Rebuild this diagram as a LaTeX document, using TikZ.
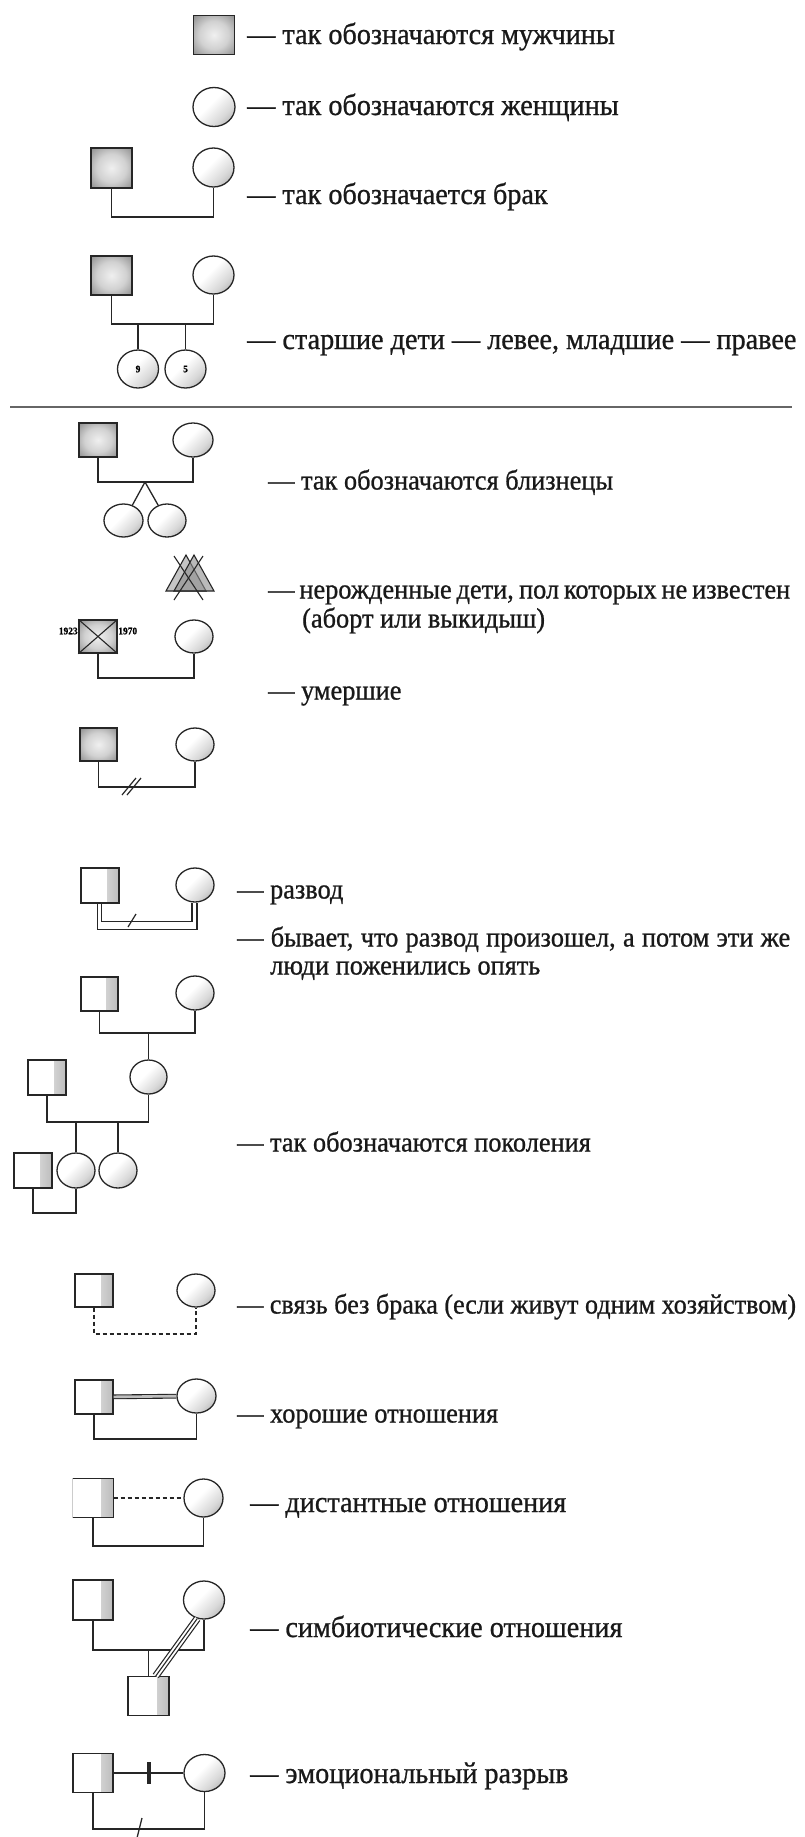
\documentclass[tikz,border=0pt]{standalone}
\usepackage{fontspec}
\setmainfont{Liberation Serif}[FakeStretch=0.94,FakeBold=0.8]
\usetikzlibrary{shapes.geometric,calc}
\newcommand\labfont{\fontsize{30}{30}\selectfont}
\newcommand\labfontb{\fontsize{28}{28}\selectfont}
\newcommand\labfontc{\fontsize{27.8}{27.8}\selectfont}
\newcommand\tinyfont{\fontsize{10}{10}\selectfont\bfseries}
\pgfdeclarehorizontalshading{femlin}{100bp}{color(0bp)=(white); color(44bp)=(white); color(66bp)=(black!15); color(82bp)=(black!32); color(100bp)=(black!42)}
\pgfdeclareradialshading{maleshade}{\pgfpoint{0bp}{0bp}}{color(0bp)=(black!6); color(18bp)=(black!18); color(38bp)=(black!48); color(50bp)=(black!62); color(72bp)=(black!68)}
\begin{document}
\begin{tikzpicture}[x=1pt,y=-1pt,
  ln/.style={line width=1.3pt, draw=black!85},
  pers/.style={draw=black!85, line width=1.3pt, inner sep=0pt},
  mdark/.style={pers, rectangle, shading=maleshade},
  mlight/.style={pers, rectangle, fill=white, path picture={\shade[left color=white, right color=black!26] ($(path picture bounding box.north east)+(-12,0)$) rectangle (path picture bounding box.south east);}},
  fem/.style={pers, ellipse, fill=white, path picture={\shade[shading=femlin, shading angle=-45] (path picture bounding box.south west) rectangle (path picture bounding box.north east);}},
  lab/.style={anchor=base west, inner sep=0pt, font=\labfont, text=black!90},
  labb/.style={lab, font=\labfontb},
  yrs/.style={inner sep=0.5pt, font=\tinyfont},
  triple/.style={line width=7.4pt, draw=black!85, postaction={draw=white, line width=5pt}, postaction={draw=black!85, line width=1.1pt}}
]
\useasboundingbox (0,0) rectangle (805,1837);
\fill[white] (0,0) rectangle (805,1837);

% Row 1
\node[mdark, minimum width=41pt, minimum height=39pt] (m1) at (214,35) {};
\node[lab] (t1) at (247,44) {— так обозначаются мужчины};
% Row 2
\node[fem, minimum width=42pt, minimum height=39pt] (f2) at (214,107) {};
\node[lab] (t2) at (247,115) {— так обозначаются женщины};
% Row 3
\node[mdark, minimum width=41pt, minimum height=40pt] (m3) at (111.5,168) {};
\node[fem, minimum width=41pt, minimum height=39pt] (f3) at (213.5,167.5) {};
\coordinate (b3) at (160,217);
\draw[ln] (m3.south) -- (m3.south |- b3) -- (f3.south |- b3) -- (f3.south);
\node[lab] (t3) at (247,204) {— так обозначается брак};
% Row 4
\node[mdark, minimum width=41pt, minimum height=39pt] (m4) at (111.5,275.5) {};
\node[fem, minimum width=41pt, minimum height=38pt] (f4) at (213.5,275) {};
\coordinate (b4) at (160,324);
\draw[ln] (m4.south) -- (m4.south |- b4) -- (f4.south |- b4) -- (f4.south);
\node[fem, minimum width=41pt, minimum height=38pt] (c41) at (138,369) {\tinyfont 9};
\node[fem, minimum width=41pt, minimum height=38pt] (c42) at (185.5,369) {\tinyfont 5};
\draw[ln] (c41.north) -- (c41.north |- b4);
\draw[ln] (c42.north) -- (c42.north |- b4);
\node[lab] (t4) at (247,349) {— старшие дети — левее, младшие — правее};

% separator
\coordinate (sepL) at (10,407);
\coordinate (sepR) at (792,407);
\draw[line width=2.2pt, black!60] (sepL) -- (sepR);

% Twins
\node[mdark, minimum width=38pt, minimum height=34pt] (m5) at (98,440) {};
\node[fem, minimum width=40pt, minimum height=34pt] (f5) at (193,440) {};
\coordinate (b5) at (145,482);
\draw[ln] (m5.south) -- (m5.south |- b5) -- (f5.south |- b5) -- (f5.south);
\node[fem, minimum width=39pt, minimum height=33pt] (t51) at (123.5,520.5) {};
\node[fem, minimum width=38pt, minimum height=33pt] (t52) at (167,520.5) {};
\draw[ln] (b5) -- (t51.60);
\draw[ln] (b5) -- (t52.120);
\node[labb] (t5) at (268,489.5) {— так обозначаются близнецы};

% Unborn
\filldraw[line width=1.1pt, draw=black!85, fill=black!45, fill opacity=0.5] (166,591) -- (186,555) -- (206,591) -- cycle;
\filldraw[line width=1.1pt, draw=black!85, fill=black!45, fill opacity=0.6] (174,591) -- (194,555) -- (214,591) -- cycle;
\draw[line width=1.1pt, black!85] (174,556) -- (203,600);
\draw[line width=1.1pt, black!85] (203,556) -- (174,600);
\node[labb] (t6) at (268,598.5) {\makebox[522pt][s]{— нерожденные дети, пол которых не известен}};
\node[labb] (t6b) at (302,627.5) {(аборт или выкидыш)};

% Deceased
\node[mdark, minimum width=38pt, minimum height=33pt] (m6) at (98,636.5) {};
\draw[line width=1.1pt, black!85] (m6.north west) -- (m6.south east) (m6.north east) -- (m6.south west);
\coordinate (yr) at (0,631);
\node[yrs, anchor=east] (y1) at (m6.west |- yr) {1923};
\node[yrs, anchor=west] (y2) at (m6.east |- yr) {1970};
\node[fem, minimum width=38pt, minimum height=33pt] (f6) at (194,636.5) {};
\coordinate (b6) at (146,678);
\draw[ln] (m6.south) -- (m6.south |- b6) -- (f6.south |- b6) -- (f6.south);
\node[labb] (t7) at (268,699.5) {— умершие};

% Double slash
\node[mdark, minimum width=37pt, minimum height=33pt] (m7) at (98.5,744.5) {};
\node[fem, minimum width=38pt, minimum height=33pt] (f7) at (195,744.5) {};
\coordinate (b7) at (146,787);
\draw[ln] (m7.south) -- (m7.south |- b7) -- (f7.south |- b7) -- (f7.south);
\draw[line width=1.2pt, black!85] (122,795) -- (136,778);
\draw[line width=1.2pt, black!85] (127,795) -- (141,778);

% Divorce
\node[mlight, minimum width=38pt, minimum height=35pt] (m8) at (100,885.5) {};
\node[fem, minimum width=38pt, minimum height=34pt] (f8) at (195,885) {};
\draw[ln] ($(m8.south)+(1.5,0)$) -- ++(0,18) -| ($(f8.south)+(-3,0)$);
\draw[ln] ($(m8.south)+(-2.5,0)$) -- ++(0,26) -| ($(f8.south)+(2,0)$);
\draw[line width=1.2pt, black!85] (128,927) -- (136,914);
\node[labb] (t8) at (237,898.5) {— развод};
\node[labb] (t9) at (237,946.5) {\makebox[553pt][s]{— бывает, что развод произошел, а потом эти же}};
\node[labb] (t9b) at (270,974.5) {люди поженились опять};

% Generations
\node[mlight, minimum width=37pt, minimum height=34pt] (g1m) at (99.5,994) {};
\node[fem, minimum width=38pt, minimum height=34pt] (g1f) at (195,993) {};
\coordinate (gb1) at (148,1033);
\draw[ln] (g1m.south) -- (g1m.south |- gb1) -- (g1f.south |- gb1) -- (g1f.south);
\node[fem, minimum width=37pt, minimum height=34pt] (g2f) at (148.5,1077) {};
\draw[ln] (g2f.north) -- (g2f.north |- gb1);
\node[mlight, minimum width=38pt, minimum height=35pt] (g2m) at (47,1077.5) {};
\coordinate (gb2) at (100,1122);
\draw[ln] (g2m.south) -- (g2m.south |- gb2) -- (g2f.south |- gb2) -- (g2f.south);
\node[fem, minimum width=38pt, minimum height=35pt] (g3a) at (76,1170.5) {};
\node[fem, minimum width=38pt, minimum height=35pt] (g3b) at (118,1170.5) {};
\draw[ln] (g3a.north) -- (g3a.north |- gb2);
\draw[ln] (g3b.north) -- (g3b.north |- gb2);
\node[mlight, minimum width=38pt, minimum height=35pt] (g3m) at (33,1170.5) {};
\coordinate (gb3) at (55,1213);
\draw[ln] (g3m.south) -- (g3m.south |- gb3) -- (g3a.south |- gb3) -- (g3a.south);
\node[labb] (t10) at (237,1151.5) {— так обозначаются поколения};

% Cohabitation
\node[mlight, minimum width=38pt, minimum height=33pt] (cm) at (94,1290.5) {};
\node[fem, minimum width=38pt, minimum height=33pt] (cf) at (196,1290.5) {};
\coordinate (cb) at (145,1334);
\draw[ln, dash pattern=on 4pt off 3pt] (cm.south) -- (cm.south |- cb) -- (cf.south |- cb) -- (cf.south);
\node[lab, font=\labfontc] (t11) at (237,1313.5) {— связь без брака (если живут одним хозяйством)};

% Good relations
\node[mlight, minimum width=38pt, minimum height=34pt] (gm) at (94,1397) {};
\node[fem, minimum width=39pt, minimum height=34pt] (gf) at (196.5,1396) {};
\draw[line width=1.1pt, black!85, double=black!25, double distance=2.6pt] (gm) -- (gf);
\coordinate (gb) at (145,1439);
\draw[ln] (gm.south) -- (gm.south |- gb) -- (gf.south |- gb) -- (gf.south);
\node[labb] (t12) at (237,1422.5) {— хорошие отношения};

% Distant relations
\node[mlight, draw=none, minimum width=40pt, minimum height=38pt] (dm) at (93,1498) {};
\draw[ln] (dm.north west) -- (dm.north east) -- (dm.south east) -- (dm.south west);
\draw[line width=1pt, black!20] (dm.north west) -- (dm.south west);
\node[fem, minimum width=39pt, minimum height=38pt] (df) at (203.5,1498) {};
\draw[ln, dash pattern=on 4pt off 3pt] (dm) -- (df);
\coordinate (db) at (148,1546);
\draw[ln] (dm.south) -- (dm.south |- db) -- (df.south |- db) -- (df.south);
\node[lab] (t13) at (250,1512) {— дистантные отношения};

% Symbiotic relations
\node[mlight, minimum width=40pt, minimum height=40pt] (sm) at (93,1600) {};
\node[fem, minimum width=41pt, minimum height=38pt] (sf) at (204,1600) {};
\coordinate (sb) at (148.5,1650);
\draw[ln] (sm.south) -- (sm.south |- sb) -- (sf.south |- sb) -- (sf.south);
\node[mlight, minimum width=41pt, minimum height=39pt] (sc) at (148.5,1696) {};
\draw[ln] (sc.north) -- (sc.north |- sb);
\draw[triple] (sf.250) -- (sc.70);
\node[lab] (t14) at (250,1637) {— симбиотические отношения};

% Emotional cutoff
\node[mlight, minimum width=40pt, minimum height=39pt] (em) at (93,1773) {};
\node[fem, minimum width=41pt, minimum height=37pt] (ef) at (204.5,1773) {};
\draw[ln] (em) -- (ef);
\draw[line width=3.8pt, black!85] (149,1762) -- (149,1784);
\coordinate (eb) at (148,1829);
\draw[ln] (em.south) -- (em.south |- eb) -- (ef.south |- eb) -- (ef.south);
\draw[line width=1.3pt, black!85] (136,1842) -- (142,1818);
\node[lab] (t15) at (250,1783) {— эмоциональный разрыв};
\end{tikzpicture}
\end{document}
